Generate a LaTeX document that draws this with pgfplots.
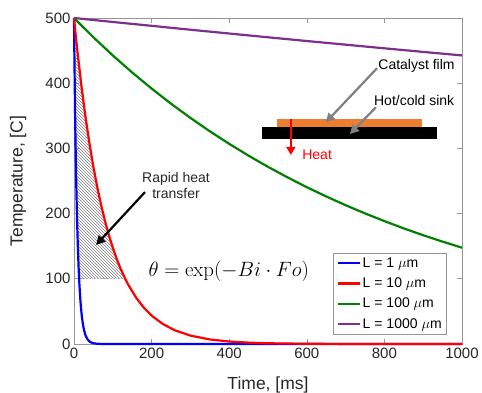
\documentclass[border=0pt]{standalone}
\usepackage[no-math]{fontspec}
\setmainfont{Liberation Sans}
\usepackage{pgfplots}
\pgfplotsset{compat=1.18}
\usetikzlibrary{patterns,arrows.meta}
\definecolor{mblue}{RGB}{0,0,255}
\definecolor{mred}{RGB}{255,0,0}
\definecolor{mgreen}{RGB}{0,128,0}
\definecolor{mpurple}{RGB}{126,47,142}
\definecolor{axcol}{RGB}{150,150,150}
\definecolor{txt}{RGB}{38,38,38}
\definecolor{filmor}{RGB}{237,125,49}
\definecolor{arrgray}{RGB}{128,128,128}
\begin{document}
\begin{tikzpicture}
\useasboundingbox (0,0) rectangle (482pt,393pt);
\begin{axis}[
  at={(74pt,49pt)}, anchor=south west,
  scale only axis, width=388pt, height=326pt,
  xmin=0, xmax=1000, ymin=0, ymax=500,
  xtick={0,200,...,1000}, ytick={0,100,...,500},
  tick align=inside, major tick length=5pt,
  axis line style={axcol, line width=0.6pt},
  tick style={axcol, line width=0.6pt},
  ticklabel style={font=\fontsize{15}{18}\selectfont, text=txt},
  /pgf/number format/assume math mode=true,
  /pgf/number format/1000 sep={},
  xlabel={Time, [ms]}, ylabel={Temperature, [C]},
  label style={font=\fontsize{17.5}{20}\selectfont, text=txt},
  xlabel style={at={(axis description cs:0.5,-0.1258)}, anchor=center},
  ylabel style={at={(axis description cs:-0.1443,0.5)}, anchor=center, rotate=0},
  clip=false,
  legend cell align=left,
  legend style={at={(0.961,0.028)}, anchor=south east,
    font=\fontsize{14}{16}\selectfont, draw=axcol, fill=white, text=black,
    inner sep=3pt, row sep=5pt},
  legend image code/.code={\draw[line width=2.2pt] (0pt,0pt) -- (22pt,0pt);},
]
% hatched region
\addplot[forget plot, draw=none, pattern=north west lines, pattern color=gray] coordinates {
(0,500) (10,442.6) (20,391.8) (30,346.8) (40,307.0) (50,271.7) (60,240.5) (70,212.9)
(80,188.5) (90,166.8) (100,147.7) (110,130.7) (120,115.7) (126,107.6) (126,100)
(13.2,100) (12,115.7) (10,147.7) (8,188.5) (7,212.9) (6,240.5) (5,271.7) (4,307.0)
(3,346.8) (2,391.8) (1,442.6) (0,500)};
\addplot[forget plot, gray!60, densely dotted, line width=0.6pt] coordinates {(13.2,100) (126,100)};

\addplot[mblue, line width=2.2pt] coordinates {
(0,500) (1,442.6) (2,391.8) (3,346.8) (4,307.0) (5,271.7) (6,240.5) (7,212.9) (8,188.5)
(10,147.7) (12,115.7) (14,90.7) (16,71.1) (18,55.7) (20,43.6) (23,30.3) (26,21.0)
(30,12.9) (35,7.0) (40,3.8) (45,2.07) (50,1.12) (60,0.33) (70,0.1) (80,0.03) (100,0) (1000,0)};
\addlegendentry{L = 1 $\mu$m}
\addplot[mred, line width=2.2pt] coordinates {
(0,500) (5,470.4) (10,442.6) (20,391.8) (30,346.8) (40,307.0) (50,271.7) (60,240.5)
(70,212.9) (80,188.5) (90,166.8) (100,147.7) (110,130.7) (120,115.7) (132,100.0)
(140,90.7) (160,71.1) (180,55.7) (200,43.6) (230,30.3) (260,21.0) (300,12.9)
(350,7.0) (400,3.8) (450,2.07) (500,1.12) (600,0.33) (700,0.1) (800,0.03) (1000,0)};
\addlegendentry{L = 10 $\mu$m}
\addplot[mgreen, line width=2.2pt] coordinates {
(0,500) (50,470.4) (100,442.6) (150,416.4) (200,391.8) (250,368.6) (300,346.8)
(350,326.3) (400,307.0) (450,288.8) (500,271.7) (550,255.7) (600,240.5) (650,226.3)
(700,212.9) (750,200.3) (800,188.5) (850,177.3) (900,166.8) (950,157.0) (1000,147.7)};
\addlegendentry{L = 100 $\mu$m}
\addplot[mpurple, line width=2.2pt] coordinates {
(0,500) (100,493.9) (200,488.0) (300,482.0) (400,476.2) (500,470.4) (600,464.7)
(700,459.1) (800,453.5) (900,448.0) (1000,442.6)};
\addlegendentry{L = 1000 $\mu$m}

% annotation: rapid heat transfer
\node[align=center, font=\fontsize{14}{16}\selectfont, text=txt, inner sep=0pt] at (axis cs:263,243) {Rapid heat\\transfer};
\draw[black, line width=2.2pt, -{Triangle[length=9pt,width=9pt]}] (axis cs:183,233) -- (axis cs:57,152);

% equation
\node[font=\fontsize{21.5}{25}\selectfont] at (axis cs:399,112) {$\theta = \exp(-Bi\cdot Fo)$};

% inset schematic
\fill[black] (axis cs:485,314) rectangle (axis cs:936,333);
\fill[filmor] (axis cs:523,333) rectangle (axis cs:897,345);
\draw[mred, line width=2pt, -{Triangle[length=8pt,width=9pt]}] (axis cs:559,345) -- (axis cs:559,290);
\node[mred, anchor=west, font=\fontsize{14}{16}\selectfont, inner sep=0pt] at (axis cs:588,290) {Heat};
\draw[arrgray, line width=2.2pt, -{Triangle[length=9pt,width=9pt]}] (axis cs:781,423) -- (axis cs:649,340);
\draw[arrgray, line width=2.2pt, -{Triangle[length=9pt,width=9pt]}] (axis cs:778,363) -- (axis cs:711,322);
\node[anchor=west, font=\fontsize{14}{16}\selectfont, text=black, inner sep=0pt] at (axis cs:784,426) {Catalyst film};
\node[anchor=west, font=\fontsize{14}{16}\selectfont, text=black, inner sep=0pt] at (axis cs:773,374) {Hot/cold sink};
\end{axis}
\end{tikzpicture}
\end{document}
